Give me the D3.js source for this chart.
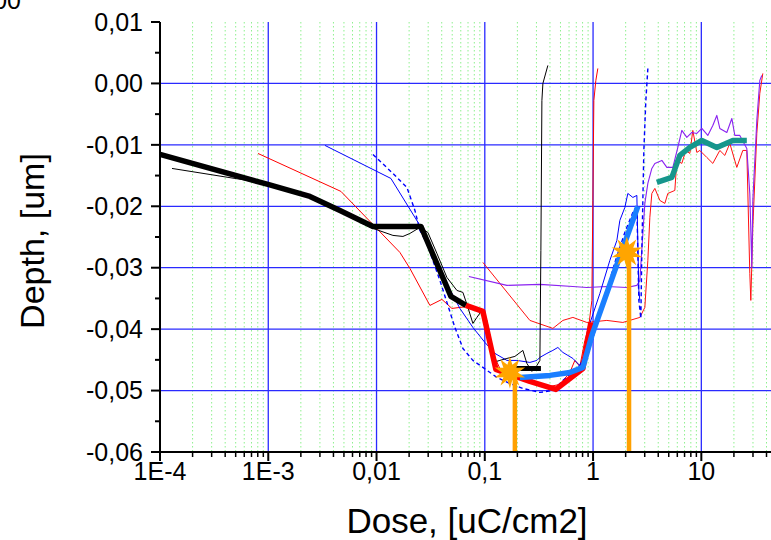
<!DOCTYPE html>
<html><head><meta charset="utf-8">
<script src="https://cdn.jsdelivr.net/npm/d3@7"></script>
<style>body{margin:0;background:#fff} svg{display:block;font-family:"Liberation Sans",Arial,sans-serif}</style>
</head><body><svg id="c" width="771" height="540"></svg>
<script>
// ---------- data (dose in uC/cm2, depth in um) ----------
const xTickValues = [1e-4, 1e-3, 1e-2, 1e-1, 1, 10];
const xTickLabels = ["1E-4", "1E-3", "0,01", "0,1", "1", "10"];
const yTickValues = [0.01, 0.00, -0.01, -0.02, -0.03, -0.04, -0.05, -0.06];
const yTickLabels = ["0,01", "0,00", "-0,01", "-0,02", "-0,03", "-0,04", "-0,05", "-0,06"];

const thinBlack = [[0.0001291,-0.01384],[0.0004925,-0.01547],[0.000994,-0.01628],[0.002427,-0.01823],[0.004592,-0.02051],[0.007027,-0.02263],[0.009268,-0.0236],[0.01417,-0.02474],[0.01753,-0.02491],[0.02034,-0.02442],[0.02516,-0.02344],[0.02982,-0.02426],[0.03612,-0.02767],[0.04467,-0.03158],[0.05527,-0.0337],[0.06279,-0.03402],[0.06982,-0.03646],[0.07765,-0.03907],[0.08455,-0.03809],[0.09402,-0.03695],[0.1068,-0.04102],[0.1188,-0.04542],[0.1378,-0.04509],[0.16,-0.04477],[0.1896,-0.04444],[0.2248,-0.04346],[0.2447,-0.04558],[0.2722,-0.04688],[0.3028,-0.04591],[0.3228,-0.04509],[0.3296,-0.02719],[0.3368,-0.00277],[0.3441,0.0],[0.3825,0.00293]];
const thinRedA = [[0.0008034,-0.0114],[0.004692,-0.01758],[0.01644,-0.02751],[0.02034,-0.03012],[0.03112,-0.03614],[0.04017,-0.03516],[0.04969,-0.03663],[0.05891,-0.03646],[0.07284,-0.0363],[0.09009,-0.03679],[0.1045,-0.03858],[0.1213,-0.04428],[0.1378,-0.0464],[0.1705,-0.04705],[0.211,-0.04786],[0.2609,-0.04802],[0.3228,-0.049],[0.3992,-0.04932],[0.4936,-0.049],[0.6106,-0.04705],[0.6791,-0.04509],[0.7552,-0.04607],[0.84,-0.04184],[0.9146,-0.0394],[0.9748,-0.03532],[0.9958,-0.01905],[1.017,-0.00277],[1.061,0.00049],[1.107,0.00244]];
const thinRedB = [[0.09605,-0.02914],[0.2609,-0.03858],[0.4254,-0.03988],[0.5263,-0.03858],[0.651,-0.03809],[0.8763,-0.03891],[1.341,-0.03858],[1.884,-0.03891],[2.705,-0.03809],[3.008,-0.03646],[3.207,-0.02881],[3.346,-0.02181],[3.491,-0.01791],[3.722,-0.01709],[4.14,-0.01905],[4.603,-0.01953],[4.905,-0.01791],[5.692,-0.01742],[5.94,-0.01253],[6.605,-0.01302],[7.193,-0.01091],[7.83,-0.0114],[8.346,-0.00765],[9.088,-0.01123],[9.686,-0.01091],[11.24,-0.01205],[12.77,-0.01302],[14.82,-0.01091],[16.48,-0.01172],[18.33,-0.00977],[21.27,-0.01367],[24.16,-0.01091],[26.31,-0.01091],[28.04,-0.03093],[28.65,-0.03532],[29.9,-0.02344],[32.55,-0.00814],[34.69,-0.00163],[36.98,0.00163]];
const thinPurple = [[0.07131,-0.03142],[0.16,-0.03288],[0.3228,-0.03272],[0.651,-0.03305],[0.8763,-0.03321],[1.341,-0.03305],[2.051,-0.03321],[2.538,-0.03288],[2.705,-0.03207],[2.884,-0.02442],[3.008,-0.01953],[3.207,-0.01628],[3.491,-0.01384],[3.722,-0.01302],[4.32,-0.01253],[4.802,-0.01367],[5.457,-0.01367],[6.067,-0.01042],[6.605,-0.00765],[7.346,-0.00879],[8.17,-0.00798],[9.088,-0.00814],[10.11,-0.00733],[11.48,-0.00846],[12.77,-0.00684],[13.9,-0.00521],[14.82,-0.00733],[17.2,-0.00798],[19.13,-0.0057],[20.39,-0.00846],[22.67,-0.00846],[26.31,-0.01058],[28.04,-0.01791],[29.27,-0.02995],[29.9,-0.01905],[32.55,-0.00602],[34.69,0.00049],[36.2,0.0013]];
const thinBlue = [[0.003339,-0.01009],[0.01358,-0.01547],[0.02516,-0.02312],[0.03848,-0.03044],[0.05891,-0.03663],[0.07765,-0.03972],[0.1002,-0.04216],[0.124,-0.04395],[0.16,-0.04509],[0.1979,-0.04509],[0.2609,-0.04542],[0.3028,-0.04509],[0.3228,-0.0446],[0.3746,-0.04395],[0.4254,-0.04346],[0.4732,-0.04298],[0.5263,-0.04379],[0.5853,-0.04428],[0.651,-0.04477],[0.7552,-0.04591],[0.84,-0.04395],[0.9341,-0.03907],[1.156,-0.03419],[1.429,-0.02881],[1.659,-0.02556],[1.768,-0.0223],[1.966,-0.02019],[2.096,-0.01791],[2.331,-0.01856],[2.538,-0.01823],[2.648,-0.0337],[2.705,-0.03532]];
const dashBlue = [[0.009268,-0.01156],[0.01417,-0.01465],[0.01909,-0.01693],[0.02262,-0.02067],[0.02516,-0.02393],[0.0292,-0.02605],[0.03848,-0.03207],[0.04562,-0.03614],[0.05295,-0.03972],[0.06279,-0.04314],[0.07765,-0.04509],[0.09605,-0.04623],[0.1293,-0.04786],[0.1705,-0.04884],[0.2248,-0.04965],[0.3228,-0.0503],[0.4254,-0.04998],[0.5263,-0.04835],[0.7086,-0.0464],[0.8763,-0.0446],[0.9958,-0.04151],[1.156,-0.03744],[1.341,-0.0337],[1.59,-0.02914],[1.966,-0.02426],[2.331,-0.021],[2.538,-0.01986],[2.648,-0.03532],[2.763,-0.03826],[2.823,-0.02719],[2.945,-0.01091],[3.073,-0.00277],[3.207,0.00244]];

const thickBlack = [[1e-4,-0.01156],[0.000994,-0.01644],[0.002427,-0.0184],[0.004592,-0.02067],[0.009268,-0.02328],[0.0257,-0.02328],[0.04864,-0.03467],[0.06691,-0.03614]];
const blackBar = [[0.153,-0.0464],[0.33,-0.0464]];
const thickRed = [[0.06691,-0.03614],[0.09605,-0.03712],[0.1266,-0.04656],[0.1705,-0.04737],[0.2609,-0.04851],[0.4534,-0.04981],[0.805,-0.0464],[0.9543,-0.0389]];
const thickBlue = [[0.211,-0.04786],[0.3992,-0.04753],[0.6106,-0.04705],[0.805,-0.04623],[0.9748,-0.04102],[1.59,-0.03044],[2.593,-0.02002]];
const thickTeal = [[3.882,-0.01612],[5.341,-0.0153],[6.332,-0.01172],[7.83,-0.01042],[10.11,-0.00928],[13.9,-0.01042],[19.54,-0.00928],[26.31,-0.00928]];

const starDose = [0.1705, 2.051];
const starDepth = [-0.04705, -0.02751];
const markerDose = [0.1896, 2.149];

// ---------- drawing ----------
const svg = d3.select("#c");
const x = d3.scaleLog().domain([1e-4, 50]).range([160, 777]);
const y = d3.scaleLinear().domain([-0.06, 0.01]).range([452, 22]);
const xLeft = 160, yTop = y(0.01), yBot = y(-0.06);

const minorX = [];
[1e-4, 1e-3, 1e-2, 1e-1, 1, 10].forEach(d => { for (let k = 2; k <= 9; k++) { const v = d * k; if (v < 50) minorX.push(v); } });
const minorY = d3.range(7).map(i => 0.005 - 0.01 * i);

const g = svg.append("g");
g.selectAll("line.mg").data(minorX).join("line")
  .attr("x1", d => x(d)).attr("x2", d => x(d)).attr("y1", yTop).attr("y2", yBot)
  .attr("stroke", "#8ef08e").attr("stroke-width", 1).attr("stroke-dasharray", "1.5,2.5");
g.selectAll("line.vg").data(xTickValues.slice(1)).join("line")
  .attr("x1", d => x(d)).attr("x2", d => x(d)).attr("y1", yTop).attr("y2", yBot)
  .attr("stroke", "#2a2aff").attr("stroke-width", 1.3);
g.selectAll("line.hg").data(yTickValues.slice(1, -1)).join("line")
  .attr("y1", d => y(d)).attr("y2", d => y(d)).attr("x1", xLeft).attr("x2", 771)
  .attr("stroke", "#2a2aff").attr("stroke-width", 1.3);

const line = d3.line().x(d => x(d[0])).y(d => y(d[1]));
function draw(data, color, w, dash) {
  const p = svg.append("path").datum(data).attr("d", line).attr("fill", "none")
    .attr("stroke", color).attr("stroke-width", w).attr("stroke-linejoin", "round");
  if (dash) p.attr("stroke-dasharray", dash);
}
draw(thinRedA, "#ff0000", 1);
draw(thinRedB, "#ff1010", 1);
draw(thinPurple, "#8a22f0", 1.1);
draw(thinBlue, "#0000ff", 1);
draw(dashBlue, "#0000ff", 1.4, "4,3");
draw(thinBlack, "#000000", 1);
draw(thickBlack, "#000000", 5.5);
draw(blackBar, "#000000", 5);
draw(thickRed, "#ff0000", 5.5);
draw(thickBlue, "#1a7fff", 5.5);
draw(thickTeal, "#16968c", 5.5);

svg.selectAll("line.om").data(markerDose).join("line")
  .attr("x1", d => x(d)).attr("x2", d => x(d))
  .attr("y1", (d, i) => y(starDepth[i])).attr("y2", yBot)
  .attr("stroke", "#ffa000").attr("stroke-width", 4.5);
const starGen = d3.lineRadial().curve(d3.curveLinearClosed);
const starPts = d3.range(20).map(i => [i * Math.PI / 10, i % 2 ? 8 : 16]);
svg.selectAll("path.st").data(starDose).join("path")
  .attr("d", starGen(starPts))
  .attr("transform", (d, i) => `translate(${x(d)},${y(starDepth[i])})`)
  .attr("fill", "#ffa500");

const fmt = svg.append("g").attr("font-size", 25).attr("fill", "#000");
const ax = svg.append("g").attr("stroke", "#000");
ax.append("line").attr("x1", xLeft).attr("x2", xLeft).attr("y1", yTop).attr("y2", yBot).attr("stroke-width", 2);
ax.append("line").attr("x1", xLeft).attr("x2", 771).attr("y1", yBot).attr("y2", yBot).attr("stroke-width", 2);
ax.selectAll("line.ytm").data(yTickValues).join("line")
  .attr("x1", xLeft - 9).attr("x2", xLeft).attr("y1", d => y(d)).attr("y2", d => y(d)).attr("stroke-width", 2);
ax.selectAll("line.ytn").data(minorY).join("line")
  .attr("x1", xLeft - 5).attr("x2", xLeft).attr("y1", d => y(d)).attr("y2", d => y(d)).attr("stroke-width", 2);
ax.selectAll("line.xtm").data(xTickValues).join("line")
  .attr("x1", d => x(d)).attr("x2", d => x(d)).attr("y1", yBot).attr("y2", yBot + 9).attr("stroke-width", 2);
ax.selectAll("line.xtn").data(minorX).join("line")
  .attr("x1", d => x(d)).attr("x2", d => x(d)).attr("y1", yBot).attr("y2", yBot + 5).attr("stroke-width", 1.5);

fmt.selectAll("text.yl").data(yTickValues).join("text")
  .attr("x", 143).attr("y", d => y(d)).attr("dy", "0.35em").attr("text-anchor", "end")
  .text((d, i) => yTickLabels[i]);
fmt.selectAll("text.xl").data(xTickValues).join("text")
  .attr("x", d => x(d)).attr("y", 480).attr("text-anchor", "middle")
  .text((d, i) => xTickLabels[i]);

svg.append("text").attr("x", 467).attr("y", 533).attr("text-anchor", "middle")
  .attr("font-size", 35).text("Dose, [uC/cm2]");
svg.append("text").attr("transform", "translate(44,241) rotate(-90)").attr("text-anchor", "middle")
  .attr("font-size", 34).text("Depth, [um]");
svg.append("text").attr("x", 21).attr("y", 9).attr("text-anchor", "end")
  .attr("font-size", 25).text("00");
</script></body></html>
